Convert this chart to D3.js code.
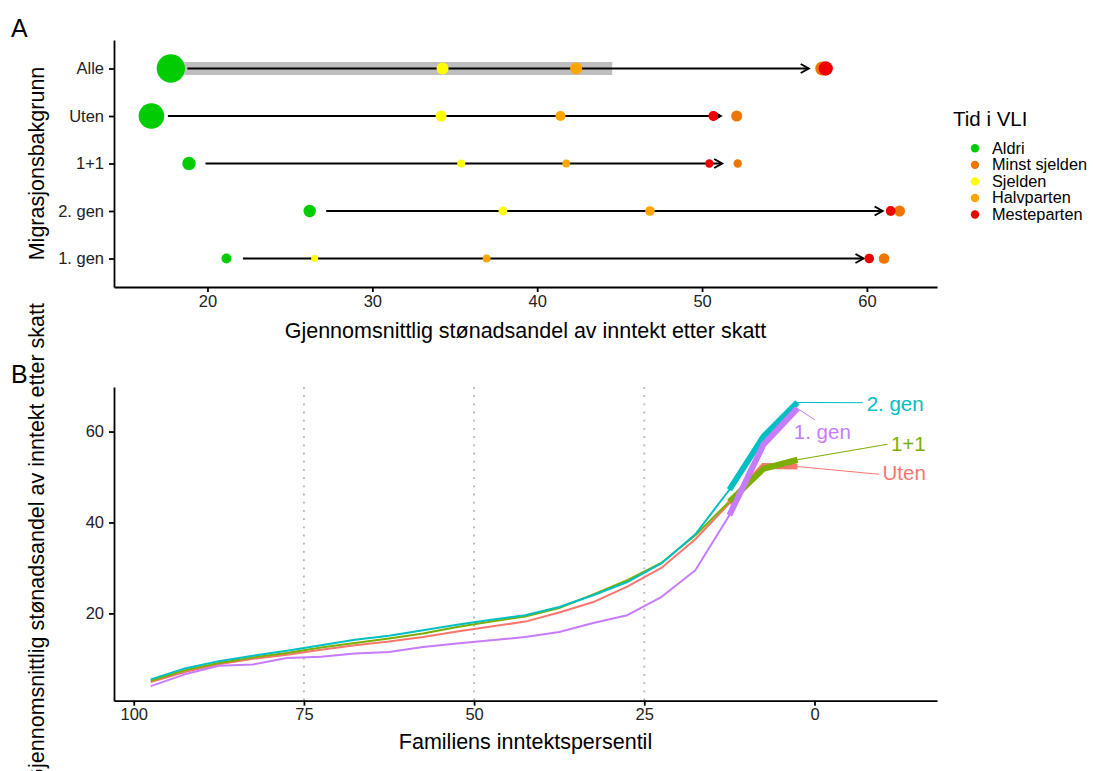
<!DOCTYPE html>
<html><head><meta charset="utf-8">
<script src="https://cdn.jsdelivr.net/npm/d3@7"></script>
<style>
body{margin:0;background:#fff}
svg{display:block}
text{font-family:"Liberation Sans",Arial,Helvetica,sans-serif;}
</style>
</head><body>
<svg id="c" width="1093" height="771"></svg>
<script>
// ---------- Panel A data ----------
const groupsA = ["Alle", "Uten", "1+1", "2. gen", "1. gen"];
const vliCategories = ["Aldri", "Minst sjelden", "Sjelden", "Halvparten", "Mesteparten"];
const vliColors = ["#00CD00", "#EE7600", "#FFFF00", "#FFA500", "#EE0000"];
const aldri        = [17.78, 16.60, 18.88, 26.20, 21.15];
const minstSjelden = [57.29, 52.10, 52.16, 61.98, 61.04];
const sjelden      = [34.26, 34.17, 35.39, 37.92, 26.50];
const halvparten   = [42.36, 41.41, 41.76, 46.84, 36.93];
const mesteparten  = [57.50, 50.68, 50.44, 61.44, 60.14];
const andelAldri   = [60.0, 48.8, 13.4, 11.4, 7.4];
const andelMinst   = [14.6, 9.0, 5.2, 9.0, 8.4];
const andelSjelden = [10.7, 9.0, 4.8, 5.8, 3.6];
const andelHalv    = [10.7, 7.7, 4.5, 6.9, 4.5];
const andelMest    = [15.4, 7.1, 5.2, 7.1, 6.9];
const arrowEnd     = [56.47, 51.13, 51.22, 60.95, 59.79];
const rangeAlle    = [18.6, 44.55];
const xTicksA      = [20, 30, 40, 50, 60];

// ---------- Panel B data ----------
const percentiles = [97.5, 92.5, 87.5, 82.5, 77.5, 72.5, 67.5, 62.5, 57.5, 52.5, 47.5, 42.5, 37.5, 32.5, 27.5, 22.5, 17.5, 12.5, 7.5, 2.5];
const seriesB = ["Uten", "1+1", "2. gen", "1. gen"];
const colorsB = ["#F8766D", "#7CAE00", "#00BFC4", "#C77CFF"];
const valUten  = [4.9, 7.1, 8.8, 10.0, 10.9, 12.0, 13.0, 13.8, 14.8, 16.0, 17.1, 18.2, 20.2, 22.5, 25.9, 30.0, 36.3, 44.2, 52.4, 52.3];
const val11    = [5.2, 7.5, 9.1, 10.3, 11.3, 12.5, 13.5, 14.5, 15.6, 17.0, 18.2, 19.3, 21.2, 24.2, 27.3, 31.1, 37.2, 44.6, 51.8, 53.8];
const val2gen  = [5.5, 7.9, 9.5, 10.7, 11.8, 13.0, 14.2, 15.1, 16.3, 17.5, 18.6, 19.6, 21.4, 24.0, 26.9, 31.0, 37.4, 47.2, 58.9, 66.4];
const val1gen  = [4.0, 6.6, 8.5, 8.75, 10.2, 10.45, 11.2, 11.5, 12.6, 13.4, 14.1, 14.8, 15.9, 17.9, 19.6, 23.6, 29.5, 41.6, 57.1, 65.1];
const labelPct   = [-10.0, -11.24, -7.67, 3.03];
const labelVal   = [50.97, 57.42, 66.22, 60.0];
const leaderPct  = [-9.52, -10.7, -7.1, -0.08];
const leaderVal  = [50.6, 57.2, 66.35, 62.54];
const thickFrom  = 12.5;
const refLines   = [75, 50, 25];
const xTicksB    = [100, 75, 50, 25, 0];
const yTicksB    = [20, 40, 60];

const svg = d3.select("#c");
svg.append("rect").attr("width", 1093).attr("height", 771).attr("fill", "#fff");

function styleAxis(g) {
  g.select(".domain").attr("stroke", "#000").attr("stroke-width", 1.8);
  g.selectAll(".tick line").attr("stroke", "#000").attr("stroke-width", 1.8);
  g.selectAll(".tick text").attr("fill", "#222").style("font-size", "16.5px")
    .style("font-family", '"Liberation Sans",Arial,sans-serif');
}

// ================= Panel A =================
const A = {l: 114, r: 937, t: 40, b: 287};
const xA = d3.scaleLinear().domain([14.33, 64.25]).range([A.l, A.r]);
const yA = d3.scalePoint().domain(groupsA).range([A.t, A.b]).padding(0.6);
const rA = d3.scaleSqrt().domain([0, 60]).range([0, 14.2]);

const gA = svg.append("g");
// grey range bar (Alle)
gA.append("rect")
  .attr("x", xA(rangeAlle[0])).attr("width", xA(rangeAlle[1]) - xA(rangeAlle[0]))
  .attr("y", yA("Alle") - 6.5).attr("height", 13).attr("fill", "#BEBEBE");

// arrows
groupsA.forEach((g, i) => {
  const y = yA(g), x0 = xA(aldri[i] + 1), x1 = xA(arrowEnd[i]);
  gA.append("line").attr("x1", x0).attr("x2", x1).attr("y1", y).attr("y2", y)
    .attr("stroke", "#000").attr("stroke-width", 2);
  gA.append("path").attr("d", `M${x1 - 8},${y - 4.5}L${x1},${y}L${x1 - 8},${y + 4.5}`)
    .attr("fill", "none").attr("stroke", "#000").attr("stroke-width", 2)
    .attr("stroke-linejoin", "miter");
});

// points
const valsByCat = [aldri, minstSjelden, sjelden, halvparten, mesteparten];
const sizeByCat = [andelAldri, andelMinst, andelSjelden, andelHalv, andelMest];
const pts = [];
groupsA.forEach((g, i) => {
  vliCategories.forEach((c, k) => {
    pts.push({g, c, v: valsByCat[k][i], s: sizeByCat[k][i], col: vliColors[k]});
  });
});
gA.selectAll("circle.pt").data(pts).join("circle").attr("class", "pt")
  .attr("cx", d => xA(d.v)).attr("cy", d => yA(d.g)).attr("r", d => rA(d.s))
  .attr("fill", d => d.col);

// axes A
const axA = svg.append("g").attr("transform", `translate(0,${A.b})`)
  .call(d3.axisBottom(xA).tickValues(xTicksA).tickSize(5).tickPadding(3).tickSizeOuter(0));
styleAxis(axA);
const ayA = svg.append("g").attr("transform", `translate(${A.l},0)`)
  .call(d3.axisLeft(yA).tickSize(5).tickPadding(5).tickSizeOuter(0));
styleAxis(ayA);

svg.append("text").attr("x", (A.l + A.r) / 2).attr("y", 338).attr("text-anchor", "middle")
  .style("font-size", "21.5px").attr("fill", "#000")
  .text("Gjennomsnittlig stønadsandel av inntekt etter skatt");
svg.append("text").attr("transform", `translate(44,${(A.t + A.b) / 2}) rotate(-90)`)
  .attr("text-anchor", "middle").style("font-size", "21.5px").attr("fill", "#000")
  .text("Migrasjonsbakgrunn");
svg.append("text").attr("x", 11).attr("y", 37).style("font-size", "25px").text("A");

// legend
const lg = svg.append("g");
lg.append("text").attr("x", 953).attr("y", 126).style("font-size", "20.5px").text("Tid i VLI");
vliCategories.forEach((c, k) => {
  const cy = 148.3 + k * 16.55;
  lg.append("circle").attr("cx", 975).attr("cy", cy).attr("r", 4.2).attr("fill", vliColors[k]);
  lg.append("text").attr("x", 992).attr("y", cy + 5.3).style("font-size", "16.3px").text(c);
});

// ================= Panel B =================
const B = {l: 114, r: 937, t: 387, b: 700.7};
const xB = d3.scaleLinear().domain([102.9, -18]).range([B.l, B.r]);
const yB = d3.scaleLinear().domain([0.8, 69.8]).range([B.b, B.t]);

const gB = svg.append("g");
gB.selectAll("line.ref").data(refLines).join("line").attr("class", "ref")
  .attr("x1", d => xB(d)).attr("x2", d => xB(d)).attr("y1", B.t).attr("y2", B.b)
  .attr("stroke", "#B3B3B3").attr("stroke-width", 1.8).attr("stroke-dasharray", "1.8,6.4");

const valsB = [valUten, val11, val2gen, val1gen];
const line = d3.line().x(d => xB(d[0])).y(d => yB(d[1]));
seriesB.forEach((s, i) => {
  const data = percentiles.map((p, j) => [p, valsB[i][j]]);
  gB.append("path").attr("d", line(data)).attr("fill", "none")
    .attr("stroke", colorsB[i]).attr("stroke-width", 2).attr("stroke-linejoin", "round");
});
seriesB.forEach((s, i) => {
  const data = percentiles.map((p, j) => [p, valsB[i][j]]).filter(d => d[0] <= thickFrom);
  gB.append("path").attr("d", line(data)).attr("fill", "none")
    .attr("stroke", colorsB[i]).attr("stroke-width", 6).attr("stroke-linejoin", "miter");
});
// leaders + labels
seriesB.forEach((s, i) => {
  const last = percentiles.length - 1;
  gB.append("line")
    .attr("x1", xB(percentiles[last])).attr("y1", yB(valsB[i][last]))
    .attr("x2", xB(leaderPct[i])).attr("y2", yB(leaderVal[i]))
    .attr("stroke", colorsB[i]).attr("stroke-width", 1);
  gB.append("text").attr("x", xB(labelPct[i])).attr("y", yB(labelVal[i])).attr("dy", "0.36em")
    .style("font-size", "20.5px").attr("fill", colorsB[i]).text(s);
});

const axB = svg.append("g").attr("transform", `translate(0,${B.b})`)
  .call(d3.axisBottom(xB).tickValues(xTicksB).tickSize(5).tickPadding(3).tickSizeOuter(0));
styleAxis(axB);
const ayB = svg.append("g").attr("transform", `translate(${B.l},0)`)
  .call(d3.axisLeft(yB).tickValues(yTicksB).tickSize(5).tickPadding(5).tickSizeOuter(0));
styleAxis(ayB);

svg.append("text").attr("x", (B.l + B.r) / 2).attr("y", 749).attr("text-anchor", "middle")
  .style("font-size", "21.5px").text("Familiens inntektspersentil");
svg.append("text").attr("transform", `translate(44,${(B.t + B.b) / 2}) rotate(-90)`)
  .attr("text-anchor", "middle").style("font-size", "21.5px")
  .text("Gjennomsnittlig stønadsandel av inntekt etter skatt");
svg.append("text").attr("x", 11).attr("y", 383).style("font-size", "25px").text("B");
</script>
</body></html>
